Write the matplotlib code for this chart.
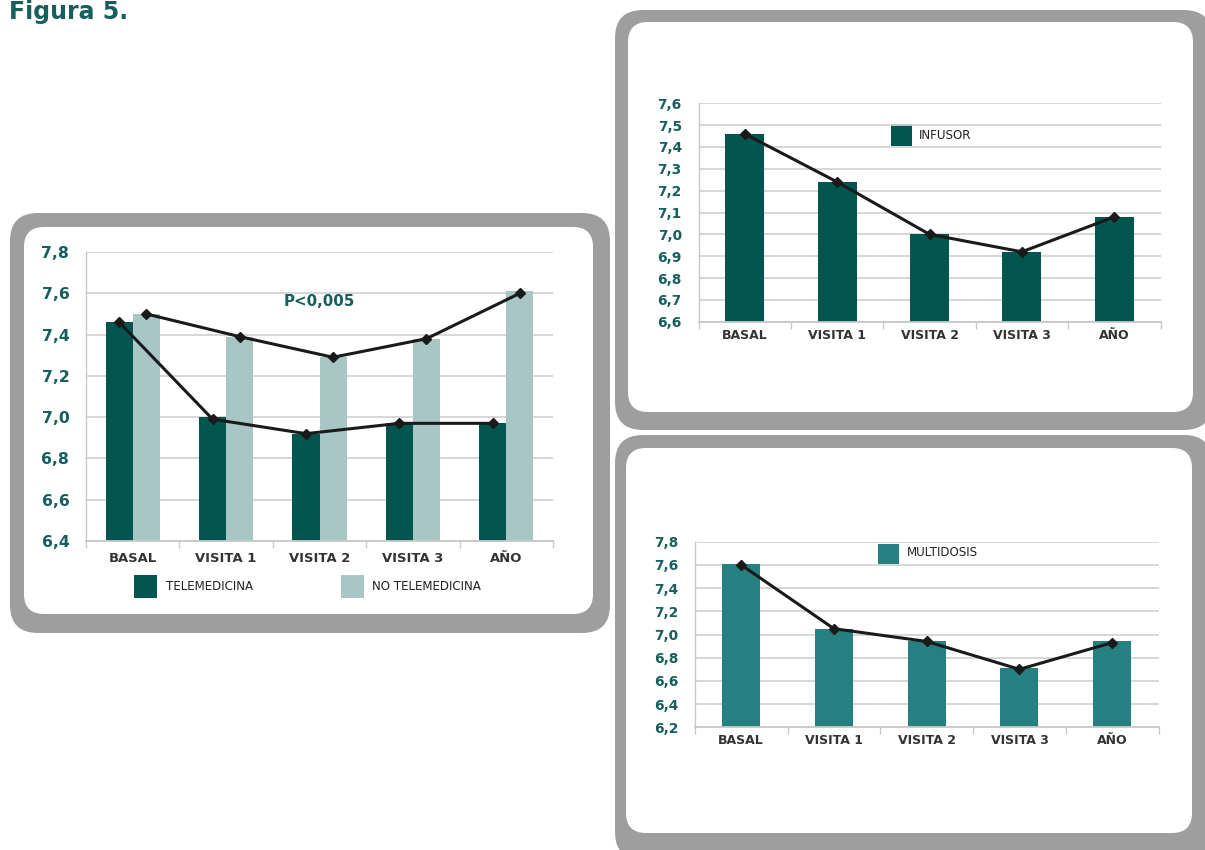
import matplotlib
matplotlib.use("Agg")
import matplotlib.pyplot as plt
from matplotlib.patches import FancyBboxPatch, Rectangle
from matplotlib import font_manager
import numpy as np

W, H = 1205, 850

categories = ["BASAL", "VISITA 1", "VISITA 2", "VISITA 3", "AÑO"]
telemedicina = [7.46, 7.00, 6.92, 6.97, 6.97]
no_telemedicina = [7.50, 7.39, 7.29, 7.38, 7.61]
tele_line = [7.46, 6.99, 6.92, 6.97, 6.97]
no_tele_line = [7.50, 7.39, 7.29, 7.38, 7.60]
infusor = [7.46, 7.24, 7.00, 6.92, 7.08]
infusor_line = [7.46, 7.24, 7.00, 6.92, 7.08]
multidosis = [7.61, 7.05, 6.94, 6.71, 6.94]
multidosis_line = [7.60, 7.05, 6.94, 6.70, 6.93]

left_yticks = [6.4, 6.6, 6.8, 7.0, 7.2, 7.4, 7.6, 7.8]
inf_yticks = [6.6, 6.7, 6.8, 6.9, 7.0, 7.1, 7.2, 7.3, 7.4, 7.5, 7.6]
mul_yticks = [6.2, 6.4, 6.6, 6.8, 7.0, 7.2, 7.4, 7.6, 7.8]

DARK = "#03564f"
LIGHT = "#a7c6c4"
MID = "#267f80"
FRAME = "#9e9e9e"
TEAL_TXT = "#165f5c"
GRID = "#d3d3d3"

installed = {f.name for f in font_manager.fontManager.ttflist}
FONT = ["Liberation Sans Narrow", "DejaVu Sans"] if "Liberation Sans Narrow" in installed else ["DejaVu Sans"]
NARROW = "Liberation Sans Narrow" in installed

fig = plt.figure(figsize=(W / 100, H / 100), dpi=100)
fig.patch.set_facecolor("white")

bg = fig.add_axes([0, 0, 1, 1])
bg.set_xlim(0, W)
bg.set_ylim(H, 0)
bg.axis("off")


def frame(x0, y0, x1, y1, ix0, iy0, ix1, iy1, r_out=28, r_in=20):
    bg.add_patch(FancyBboxPatch((x0 + r_out, y0 + r_out), (x1 - x0) - 2 * r_out, (y1 - y0) - 2 * r_out,
                                boxstyle=f"round,pad={r_out}", fc=FRAME, ec="none"))
    bg.add_patch(FancyBboxPatch((ix0 + r_in, iy0 + r_in), (ix1 - ix0) - 2 * r_in, (iy1 - iy0) - 2 * r_in,
                                boxstyle=f"round,pad={r_in}", fc="white", ec="none"))


frame(10, 213, 610, 633, 24, 227, 593, 614)
frame(615, 10, 1212, 430, 628, 22, 1193, 412)
frame(615, 435, 1212, 860, 626, 448, 1192, 833)

fig.text(9 / W, 1 - 19 / H, "Figura 5.", fontsize=20 if NARROW else 17, fontweight="bold", color=TEAL_TXT,
         va="baseline", ha="left", family=FONT)

s = 1.0 if NARROW else 0.9


def make_ax(x0, y0, x1, y1):
    ax = fig.add_axes([x0 / W, 1 - y1 / H, (x1 - x0) / W, (y1 - y0) / H])
    ax.patch.set_alpha(0)
    return ax


def style(ax, yticks, ylabsize, xlabsize, ypad, xpad):
    ax.set_xlim(-0.5, len(categories) - 0.5)
    ax.set_ylim(yticks[0], yticks[-1])
    ax.set_yticks(yticks)
    ax.set_yticklabels([f"{v:.1f}".replace(".", ",") for v in yticks],
                       fontsize=ylabsize, fontweight="bold", color=TEAL_TXT, family=FONT)
    ax.tick_params(axis="y", length=0, pad=ypad)
    ax.set_xticks(np.arange(len(categories)))
    ax.set_xticklabels(categories, fontsize=xlabsize, fontweight="bold", color="#333333", family=FONT)
    ax.tick_params(axis="x", length=0, pad=xpad)
    ax.set_xticks(np.arange(len(categories) + 1) - 0.5, minor=True)
    ax.tick_params(axis="x", which="minor", length=5, color="#c8c8c8", width=1, direction="out")
    ax.grid(axis="y", color=GRID, linewidth=1.3)
    ax.set_axisbelow(True)
    for sp in ["top", "right"]:
        ax.spines[sp].set_visible(False)
    ax.spines["left"].set_color("#c8c8c8")
    ax.spines["bottom"].set_color("#c8c8c8")
    ax.spines["left"].set_linewidth(1.0)
    ax.spines["bottom"].set_linewidth(1.3)


x = np.arange(len(categories))

# ---- left chart ----
ax1 = make_ax(86, 252, 553, 541)
bw = 0.29
ax1.bar(x - bw / 2, telemedicina, width=bw, color=DARK, zorder=2)
ax1.bar(x + bw / 2, no_telemedicina, width=bw, color=LIGHT, zorder=2)
ax1.plot(x - bw / 2, tele_line, color="#1a1a1a", lw=2.2, marker="D", ms=5, zorder=3)
ax1.plot(x + bw / 2, no_tele_line, color="#1a1a1a", lw=2.2, marker="D", ms=5, zorder=3)
style(ax1, left_yticks, 12.5 * s, 10.5 * s, 12, 8)
ax1.text(0.5, 0.83, "P<0,005", transform=ax1.transAxes, ha="center", va="center",
         fontsize=12 * s, fontweight="bold", color=TEAL_TXT, family=FONT)

bg.add_patch(Rectangle((134, 575), 23, 23, fc=DARK, ec="none"))
bg.text(166, 587, "TELEMEDICINA", fontsize=9.5 * s, color="#222222", va="center", ha="left", family=FONT)
bg.add_patch(Rectangle((341, 575), 23, 23, fc=LIGHT, ec="none"))
bg.text(372, 587, "NO TELEMEDICINA", fontsize=9.5 * s, color="#222222", va="center", ha="left", family=FONT)

# ---- top right: INFUSOR ----
ax2 = make_ax(698.5, 103.3, 1160.5, 321.7)
ax2.bar(x, infusor, width=0.42, color=DARK, zorder=2)
ax2.plot(x, infusor_line, color="#1a1a1a", lw=2.2, marker="D", ms=5, zorder=3)
style(ax2, inf_yticks, 11 * s, 10 * s, 12, 5)
bg.add_patch(Rectangle((891, 124), 21, 22, fc=DARK, ec="none"))
bg.text(919, 135, "INFUSOR", fontsize=9.5 * s, color="#222222", va="center", ha="left", family=FONT)

# ---- bottom right: MULTIDOSIS ----
ax3 = make_ax(694.8, 541.7, 1158.6, 727.3)
ax3.bar(x, multidosis, width=0.41, color=MID, zorder=2)
ax3.plot(x, multidosis_line, color="#1a1a1a", lw=2.2, marker="D", ms=5, zorder=3)
style(ax3, mul_yticks, 11 * s, 10 * s, 12, 5)
bg.add_patch(Rectangle((878, 544), 21, 20, fc=MID, ec="none"))
bg.text(907, 553, "MULTIDOSIS", fontsize=9.5 * s, color="#222222", va="center", ha="left", family=FONT)

fig.savefig("out.png", dpi=100)
